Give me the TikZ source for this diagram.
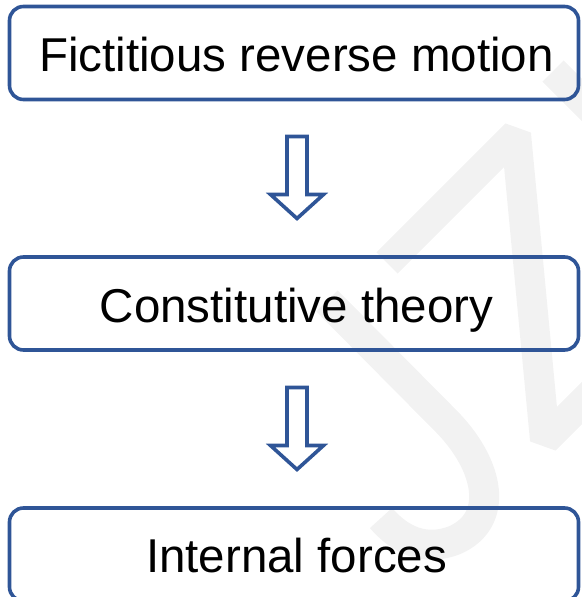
\documentclass[tikz,border=0pt]{standalone}
\usepackage{fontspec}
\setmainfont{Liberation Sans}
\definecolor{boxblue}{RGB}{47,85,151}
\definecolor{wmgray}{RGB}{242,242,242}
\begin{document}
\begin{tikzpicture}[x=1pt,y=-1pt,line width=3.6pt,
  box/.style={draw=boxblue, rounded corners=14pt, inner sep=0pt, outer sep=0pt,
              minimum width=569pt, minimum height=93pt},
  lbl/.style={font=\fontsize{47.5}{52}\selectfont, anchor=base, inner sep=0pt, text=black},
  wm/.style={draw=wmgray, line width=30pt, line join=bevel, line cap=butt},
  arrowline/.style={draw=boxblue, fill=white, line join=miter},
  blockarrow/.pic={\draw[arrowline] (-10,0) -- (10,0) -- (10,58) -- (26.5,58) -- (0,82) -- (-26.5,58) -- (-10,58) -- cycle;}]
\useasboundingbox (0,0) rectangle (581,597);
% faint watermark
\draw[wm] (553,71) -- (650,168);
\draw[wm] (387,263) -- (516,134) -- (545,440) -- (630,355);
\draw[wm] (327,301) -- (445,420) .. controls (490,465) and (500,520) .. (455,540) .. controls (425,552) and (400,540) .. (381,518);
% boxes
\node[box] (b1) at (294,53) {};
\node[box] (b2) at (294,303.5) {};
\node[box] (b3) at (294,554.5) {};
% texts
\node[lbl] (t1) at (296.5,71) {Fictitious reverse motion};
\node[lbl] (t2) at (296.5,322) {Constitutive theory};
\node[lbl] (t3) at (296.5,572) {Internal forces};
% block arrows
\pic at (297,136.5) {blockarrow};
\pic at (297,387.5) {blockarrow};
\end{tikzpicture}
\end{document}
